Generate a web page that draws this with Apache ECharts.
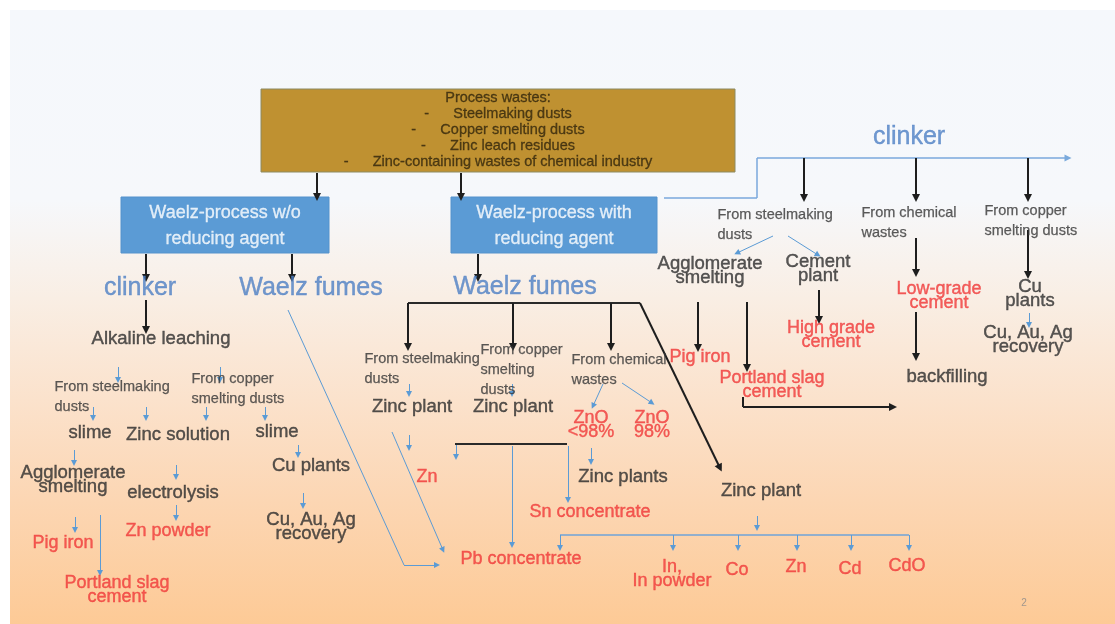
<!DOCTYPE html>
<html>
<head>
<meta charset="utf-8">
<title>Waelz process wastes</title>
<script src="https://cdn.jsdelivr.net/npm/echarts/dist/echarts.min.js"></script>
<style>
  html, body { margin: 0; padding: 0; background: #fff; }
  #chart { width: 1115px; height: 624px; }
</style>
</head>
<body>
<div id="chart"></div>
<script>
// boxes: x0, y0, x1, y1 (diagram units = pixels of the slide)
const boxes = [
  [261, 89, 735, 172],
  [121, 197, 329, 253],
  [451, 197, 657, 253]
]
const boxKinds = ['waste', 'process', 'process']

const wasteText = [
  ['Process wastes:\n-      Steelmaking dusts\n-      Copper smelting dusts\n-      Zinc leach residues\n-      Zinc-containing wastes of chemical industry', 498, 130]
]
const processText = [
  ['Waelz-process w/o\nreducing agent', 225, 226],
  ['Waelz-process with\nreducing agent', 554, 226]
]
const headings = [
  ['clinker', 140, 288],
  ['Waelz fumes', 311, 288],
  ['Waelz fumes', 525, 287],
  ['clinker', 909, 137]
]
const blackLabels = [
  ['Alkaline leaching', 161, 339],
  ['slime', 90, 433],
  ['Zinc solution', 178, 435],
  ['slime', 277, 432],
  ['Agglomerate\nsmelting', 73, 480],
  ['electrolysis', 173, 493],
  ['Cu plants', 311, 466],
  ['Cu, Au, Ag\nrecovery', 311, 527],
  ['Zinc plant', 412, 407],
  ['Zinc plant', 513, 407],
  ['Zinc plants', 623, 477],
  ['Zinc plant', 761, 491],
  ['Agglomerate\nsmelting', 710, 271],
  ['Cement\nplant', 818, 269],
  ['Cu\nplants', 1030, 294],
  ['backfilling', 947, 377],
  ['Cu, Au, Ag\nrecovery', 1028, 340]
]
const redLabels = [
  ['Zn powder', 168, 531],
  ['Pig iron', 63, 543],
  ['Portland slag\ncement', 117, 590],
  ['ZnO\n<98%', 591, 425],
  ['ZnO\n98%', 652, 425],
  ['Zn', 427, 477],
  ['Sn concentrate', 590, 512],
  ['Pb concentrate', 521, 559],
  ['In,\nIn powder', 672, 574],
  ['Co', 737, 570],
  ['Zn', 796, 567],
  ['Cd', 850, 569],
  ['CdO', 907, 566],
  ['Low-grade\ncement', 939, 296],
  ['High grade\ncement', 831, 335],
  ['Pig iron', 700, 357],
  ['Portland slag\ncement', 772, 385]
]
// small notes: left edge x, first line centre y
const smallLabels = [
  ['From steelmaking\ndusts', 55, 387],
  ['From copper\nsmelting dusts', 192, 379],
  ['From steelmaking\ndusts', 365, 359],
  ['From copper\nsmelting\ndusts', 481, 350],
  ['From chemical\nwastes', 572, 360],
  ['From steelmaking\ndusts', 718, 215],
  ['From chemical\nwastes', 862, 213],
  ['From copper\nsmelting dusts', 985, 211]
]
const pageNo = [['2', 1024, 603]]

const blackArrows = [
  [[317, 173], [317, 197]],
  [[461, 173], [461, 197]],
  [[146, 254], [146, 278]],
  [[292, 254], [292, 278]],
  [[478, 254], [478, 278]],
  [[146, 300], [146, 330]],
  [[408, 303], [408, 347]],
  [[513, 303], [513, 347]],
  [[611, 303], [611, 347]],
  [[640, 303], [720, 468]],
  [[804, 158], [804, 198]],
  [[916, 158], [916, 198]],
  [[1028, 158], [1028, 198]],
  [[916, 238], [916, 273]],
  [[1028, 230], [1028, 275]],
  [[698, 302], [698, 348]],
  [[747, 302], [747, 368]],
  [[819, 290], [819, 320]],
  [[916, 312], [916, 357]],
  [[743, 397], [743, 407], [893, 407]]
]
const blackLines = [
  [[408, 303], [640, 303]],
  [[455, 444], [567, 444]]
]
const blueArrows = [
  [[118, 367], [118, 380]],
  [[220, 367], [220, 380]],
  [[93, 407], [93, 418]],
  [[146, 407], [146, 418]],
  [[206, 407], [206, 418]],
  [[265, 407], [265, 418]],
  [[298, 445], [298, 455]],
  [[74, 450], [74, 463]],
  [[176, 465], [176, 477]],
  [[176, 505], [176, 518]],
  [[303, 493], [303, 506]],
  [[75, 517], [75, 530]],
  [[100, 515], [100, 573]],
  [[288, 310], [404, 565], [437, 565]],
  [[392, 432], [443, 550]],
  [[409, 384], [409, 394]],
  [[512, 384], [512, 394]],
  [[603, 384], [593, 406]],
  [[622, 383], [652, 403]],
  [[409, 435], [409, 448]],
  [[456, 444], [456, 457]],
  [[512, 446], [512, 545]],
  [[568, 446], [568, 500]],
  [[591, 448], [591, 462]],
  [[757, 516], [757, 528]],
  [[560, 535], [560, 548]],
  [[673, 535], [673, 548]],
  [[738, 535], [738, 548]],
  [[797, 535], [797, 548]],
  [[851, 535], [851, 548]],
  [[909, 535], [909, 548]],
  [[773, 236], [737, 253]],
  [[788, 236], [818, 255]],
  [[1029, 313], [1029, 325]]
]
const blueLines = [
  [[560, 535], [909, 535]]
]
const clinkerLine = [
  [[664, 198], [757, 198], [757, 158], [1068, 158]]
]

const FONT = 'Liberation Sans'

const chart = echarts.init(document.getElementById('chart'))

function textSeries (rows, label) {
  return {
    type: 'scatter',
    z: 10,
    symbolSize: 1,
    silent: true,
    itemStyle: { color: 'transparent' },
    data: rows.map(r => ({ value: [r[1], r[2]], name: r[0] })),
    label: Object.assign({
      show: true,
      position: 'inside',
      formatter: p => p.name,
      fontFamily: FONT,
      textBorderWidth: 0.4,
      textBorderColor: label.color
    }, label)
  }
}

// split paths into segments; a lines series only draws end symbols on plain segments
function segments (paths, lastOnly) {
  const out = []
  paths.forEach(path => {
    for (let i = 0; i < path.length - 1; i++) {
      const isLast = i === path.length - 2
      if (lastOnly === undefined || lastOnly === isLast) out.push([path[i], path[i + 1]])
    }
  })
  return out
}

function lineSeries (segs, color, width, arrow, headSize) {
  return {
    type: 'lines',
    coordinateSystem: 'cartesian2d',
    z: 5,
    silent: true,
    symbol: arrow ? ['none', 'triangle'] : ['none', 'none'],
    symbolSize: headSize || 6,
    lineStyle: { color: color, width: width, opacity: 1, curveness: 0 },
    data: segs.map(s => ({ coords: s }))
  }
}

function arrowSeries (paths, color, width, headSize) {
  return [
    lineSeries(segments(paths, false), color, width, false),
    lineSeries(segments(paths, true), color, width, true, headSize)
  ]
}

const option = {
  animation: false,
  grid: { left: 0, right: 0, top: 0, bottom: 0 },
  xAxis: { type: 'value', min: 0, max: 1115, show: false },
  yAxis: { type: 'value', min: 0, max: 624, inverse: true, show: false },
  graphic: [{
    type: 'rect',
    z: -10,
    silent: true,
    shape: { x: 10, y: 10, width: 1105, height: 614 },
    style: {
      fill: new echarts.graphic.LinearGradient(0, 0, 0, 1, [
        { offset: 0, color: '#f5f8fc' },
        { offset: 0.31, color: '#f6f8fb' },
        { offset: 0.47, color: '#f9eee4' },
        { offset: 0.635, color: '#fbe2cc' },
        { offset: 0.8, color: '#fcd6b3' },
        { offset: 1, color: '#fdca96' }
      ])
    }
  }],
  series: [
    {
      type: 'custom',
      z: 3,
      silent: true,
      data: boxes,
      renderItem (params, api) {
        const p0 = api.coord([api.value(0), api.value(1)])
        const p1 = api.coord([api.value(2), api.value(3)])
        const waste = boxKinds[params.dataIndex] === 'waste'
        return {
          type: 'rect',
          shape: { x: p0[0], y: p0[1], width: p1[0] - p0[0], height: p1[1] - p0[1] },
          style: {
            fill: waste ? '#bf9131' : '#5b9bd5',
            stroke: waste ? '#8c8a62' : '#5592cc',
            lineWidth: 1
          }
        }
      }
    },
    ...arrowSeries(clinkerLine, '#7aa9dc', 1.5, 7),
    lineSeries(blueLines, '#6fa3d8', 1.5, false),
    ...arrowSeries(blueArrows, '#5b9bd5', 1, 6),
    lineSeries(blackLines, '#2a2a2a', 2, false),
    ...arrowSeries(blackArrows, '#1e1e1e', 2, 8),
    textSeries(wasteText, { fontSize: 14.5, lineHeight: 16, color: '#33270c', textBorderWidth: 0.3 }),
    textSeries(processText, { fontSize: 18, lineHeight: 26, color: '#ffffff', textBorderWidth: 0.3 }),
    textSeries(headings, { fontSize: 25, color: '#4d7fc4' }),
    textSeries(blackLabels, { fontSize: 18.5, lineHeight: 14, color: '#2e2e2e' }),
    textSeries(redLabels, { fontSize: 18, lineHeight: 14, color: '#f03a3a' }),
    textSeries(smallLabels, {
      fontSize: 14.5, lineHeight: 20, color: '#383838', textBorderWidth: 0.25,
      position: [0, 0], align: 'left', verticalAlign: 'top', offset: [0, -10]
    }),
    textSeries(pageNo, { fontSize: 10, color: '#8a8a8a', textBorderWidth: 0 })
  ]
}

chart.setOption(option)
window.addEventListener('resize', () => chart.resize())
</script>
</body>
</html>
